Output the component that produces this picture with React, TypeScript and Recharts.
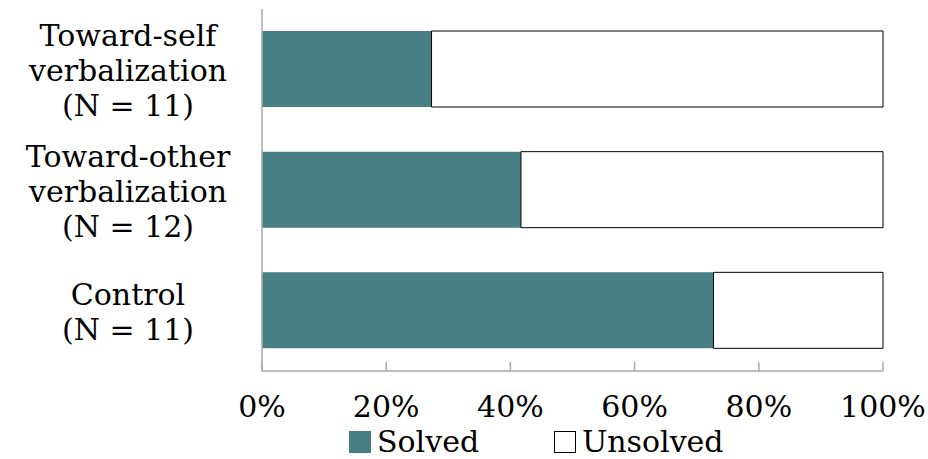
import React from "react";
import { BarChart, Bar, XAxis, YAxis, Legend } from "recharts";

// Groups (top to bottom), each label split into lines
const groupLabels: string[][] = [
  ["Toward-self", "verbalization", "(N = 11)"],
  ["Toward-other", "verbalization", "(N = 12)"],
  ["Control", "(N = 11)"],
];
const groupKeys = ["self", "other", "control"];

// Percent of participants per outcome
const solvedPct = [27.3, 41.7, 72.7];
const unsolvedPct = [72.7, 58.3, 27.3];

const xTicks = [0, 20, 40, 60, 80, 100];

const seriesNames = { solved: "Solved", unsolved: "Unsolved" };

const TEAL = "#477f85";
const AXIS = "#a9a9a9";
const FONT = "'DejaVu Serif', serif";

const data = groupKeys.map((k, i) => ({
  key: k,
  lines: groupLabels[i],
  solved: solvedPct[i],
  unsolved: unsolvedPct[i],
}));

const YTick = (props: any) => {
  const { x, y, payload } = props;
  const lines: string[] = groupLabels[payload.index] ?? [];
  const n = lines.length;
  const lh = 35;
  return (
    <g>
      {lines.map((t, i) => (
        <text
          key={i}
          x={128}
          y={y + (i - (n - 1) / 2) * lh + 12}
          textAnchor="middle"
          fontFamily={FONT}
          fontSize={30}
          fill="#000"
        >
          {t}
        </text>
      ))}
    </g>
  );
};

const XTick = (props: any) => {
  const { x, y, payload } = props;
  return (
    <text
      x={x}
      y={y + 55}
      textAnchor="middle"
      fontFamily={FONT}
      fontSize={30}
      fill="#000"
    >
      {`${payload.value}%`}
    </text>
  );
};

const LegendBox = () => (
  <svg width={928} height={40} style={{ display: "block", overflow: "visible" }}>
    <rect x={349} y={12} width={22} height={22} fill={TEAL} />
    <text x={377} y={33} fontFamily={FONT} fontSize={30} fill="#000">
      {seriesNames.solved}
    </text>
    <rect x={554.5} y={12.5} width={21} height={21} fill="#fff" stroke="#000" strokeWidth={1} />
    <text x={582} y={33} fontFamily={FONT} fontSize={30} fill="#000">
      {seriesNames.unsolved}
    </text>
  </svg>
);

export default function App() {
  return (
    <div style={{ position: "absolute", left: 0, top: 0, width: 928, height: 459, background: "#fff" }}>
      <BarChart
        width={928}
        height={459}
        data={data}
        layout="vertical"
        margin={{ top: 9, right: 45, bottom: 0, left: 0 }}
        barSize={76}
      >
        <XAxis
          type="number"
          domain={[0, 100]}
          ticks={xTicks}
          height={48}
          axisLine={{ stroke: AXIS, strokeWidth: 1.5 }}
          tickLine={{ stroke: AXIS, strokeWidth: 1.5 }}
          tickSize={-9}
          tickMargin={0}
          tick={<XTick />}
          interval={0}
        />
        <YAxis
          type="category"
          dataKey="key"
          width={262}
          axisLine={{ stroke: AXIS, strokeWidth: 1.5 }}
          tickLine={false}
          tick={<YTick />}
          interval={0}
        />
        <Legend verticalAlign="bottom" height={40} content={<LegendBox />} />
        <Bar dataKey="solved" name={seriesNames.solved} stackId="a" fill={TEAL} isAnimationActive={false} />
        <Bar
          dataKey="unsolved"
          name={seriesNames.unsolved}
          stackId="a"
          fill="#fff"
          stroke="#000"
          strokeWidth={1}
          isAnimationActive={false}
        />
      </BarChart>
    </div>
  );
}
